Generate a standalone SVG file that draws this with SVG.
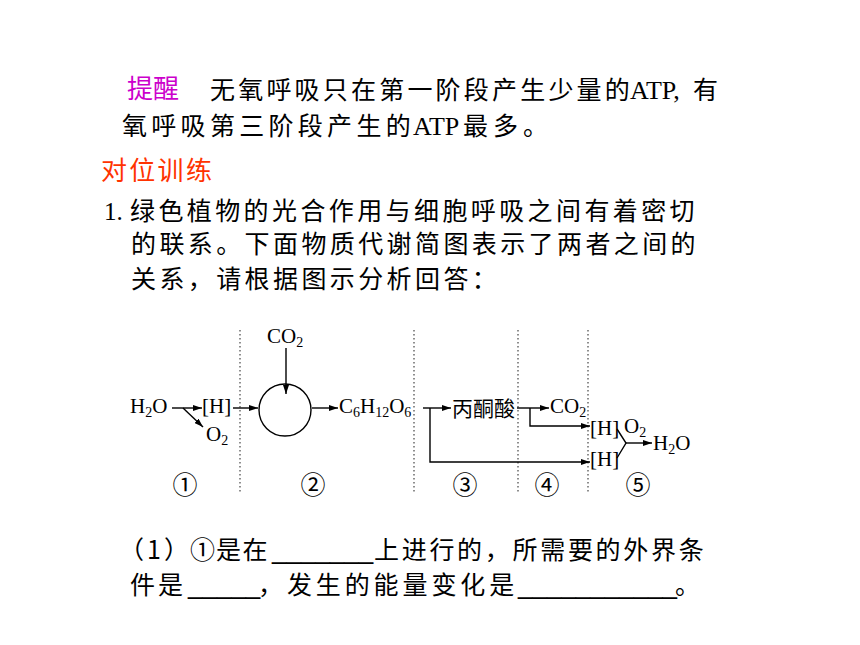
<svg xmlns="http://www.w3.org/2000/svg" width="860" height="645" viewBox="0 0 860 645">
<style>
.cjk{font-family:"Noto Sans CJK SC","Noto Sans",sans-serif;fill:#000}
.ser{font-family:"Liberation Serif","Times New Roman",serif;fill:#000}
.us{font-family:"Liberation Sans",Arial,sans-serif;font-size:26px}
.p{font-size:25px}
.chem{font-family:"Liberation Serif","Times New Roman",serif;font-size:21px;fill:#000}
.sub{font-size:14px}
.num{font-family:"Noto Sans CJK SC","DejaVu Sans",sans-serif;font-size:25px;text-anchor:middle;fill:#000}
.div{stroke:#444;stroke-width:1.2;stroke-dasharray:1.5 2.5;fill:none}
.con{stroke:#000;stroke-width:1.4;fill:none}
</style>
<defs>
<marker id="ah" markerUnits="userSpaceOnUse" markerWidth="9" markerHeight="6" refX="9" refY="3" orient="auto">
<path d="M0,0 L9,3 L0,6 z" fill="#000"/>
</marker>
</defs>
<rect width="860" height="645" fill="#fff"/>

<g id="text-top">
<text class="cjk" x="127" y="98" font-size="26" style="fill:#CC00CC">提醒</text>
<text class="cjk p" x="210" y="99" letter-spacing="3.2">无氧呼吸只在第一阶段产生少量<tspan letter-spacing="0">的</tspan><tspan class="ser" x="630" font-size="26" letter-spacing="0">ATP,</tspan><tspan x="693">有</tspan></text>
<text class="cjk p" x="122" y="135" letter-spacing="4.3">氧呼吸第三阶段产生<tspan letter-spacing="0">的</tspan><tspan class="ser" x="413" font-size="26" letter-spacing="0">ATP</tspan><tspan x="463" letter-spacing="5">最多。</tspan></text>
<text class="cjk" x="101" y="180" font-size="26" letter-spacing="2.3" style="fill:#FF3300">对位训练</text>
<text class="cjk p" x="104" y="220"><tspan class="ser" font-size="25">1.</tspan><tspan x="130" letter-spacing="3.4">绿色植物的光合作用与细胞呼吸之间有着密切</tspan></text>
<text class="cjk p" x="131" y="253" letter-spacing="3.4">的联系。下面物质代谢简图表示了两者之间的</text>
<text class="cjk p" x="131" y="288" letter-spacing="3.4">关系，请根据图示分析回答：</text>
</g>

<g id="dividers">
<line class="div" x1="240" y1="330" x2="240" y2="494"/>
<line class="div" x1="414" y1="330" x2="414" y2="494"/>
<line class="div" x1="518" y1="330" x2="518" y2="494"/>
<line class="div" x1="588" y1="330" x2="588" y2="494"/>
</g>

<g id="connectors">
<line class="con" x1="172" y1="408" x2="202" y2="408" marker-end="url(#ah)"/>
<line class="con" x1="183" y1="408" x2="203" y2="427" marker-end="url(#ah)"/>
<line class="con" x1="233" y1="408" x2="258" y2="408" marker-end="url(#ah)"/>
<line class="con" x1="286" y1="348" x2="286" y2="394" marker-end="url(#ah)"/>
<line class="con" x1="312" y1="408" x2="338" y2="408" marker-end="url(#ah)"/>
<line class="con" x1="423" y1="408" x2="451" y2="408" marker-end="url(#ah)"/>
<polyline class="con" points="430,408 430,462 590,462" marker-end="url(#ah)"/>
<line class="con" x1="517" y1="408" x2="549" y2="408" marker-end="url(#ah)"/>
<polyline class="con" points="530,408 530,426 590,426" marker-end="url(#ah)"/>
<polyline class="con" points="617,429 626,443 617,458"/>
<line class="con" x1="626" y1="443" x2="652" y2="443" marker-end="url(#ah)"/>
</g>

<g id="n-h2o-left"><text class="chem" x="130" y="413">H<tspan class="sub" dy="4">2</tspan><tspan dy="-4">O</tspan></text></g>
<g id="n-h-1"><text class="chem" x="202" y="413">[H]</text></g>
<g id="n-o2-left"><text class="chem" x="206" y="441">O<tspan class="sub" dy="4">2</tspan></text></g>
<g id="n-cycle"><circle cx="285" cy="410" r="26" fill="none" stroke="#000" stroke-width="1.4"/></g>
<g id="n-co2-top"><text class="chem" x="267" y="343">CO<tspan class="sub" dy="4">2</tspan></text></g>
<g id="n-glucose"><text class="chem" x="339" y="413">C<tspan class="sub" dy="4">6</tspan><tspan dy="-4">H</tspan><tspan class="sub" dy="4">12</tspan><tspan dy="-4">O</tspan><tspan class="sub" dy="4">6</tspan></text></g>
<g id="n-pyruvate"><text class="cjk" x="452" y="416" font-size="21">丙酮酸</text></g>
<g id="n-co2-right"><text class="chem" x="550" y="413">CO<tspan class="sub" dy="4">2</tspan></text></g>
<g id="n-h-upper"><text class="chem" x="590" y="435">[H]</text></g>
<g id="n-h-lower"><text class="chem" x="590" y="466">[H]</text></g>
<g id="n-o2-right"><text class="chem" x="624" y="433">O<tspan class="sub" dy="4">2</tspan></text></g>
<g id="n-h2o-right"><text class="chem" x="653" y="450">H<tspan class="sub" dy="4">2</tspan><tspan dy="-4">O</tspan></text></g>

<g id="stage-labels">
<text class="num" x="185" y="494">①</text>
<text class="num" x="313" y="494">②</text>
<text class="num" x="465" y="494">③</text>
<text class="num" x="547" y="494">④</text>
<text class="num" x="638" y="494">⑤</text>
</g>

<g id="text-question">
<text class="cjk p" x="119" y="559" letter-spacing="3">（1）<tspan x="190" letter-spacing="0">①</tspan><tspan x="216" letter-spacing="1.5">是在</tspan><tspan class="us" x="272" letter-spacing="0">_______</tspan><tspan x="374" letter-spacing="2.7">上进行的，所需要的外界条</tspan></text>
<text class="cjk p" x="130" y="594" letter-spacing="3">件是<tspan class="us" x="188" letter-spacing="0">_____</tspan><tspan x="258" letter-spacing="3.9">，发生的能量变化是</tspan><tspan class="us" x="518" letter-spacing="0">___________</tspan><tspan x="675">。</tspan></text>
</g>
</svg>
